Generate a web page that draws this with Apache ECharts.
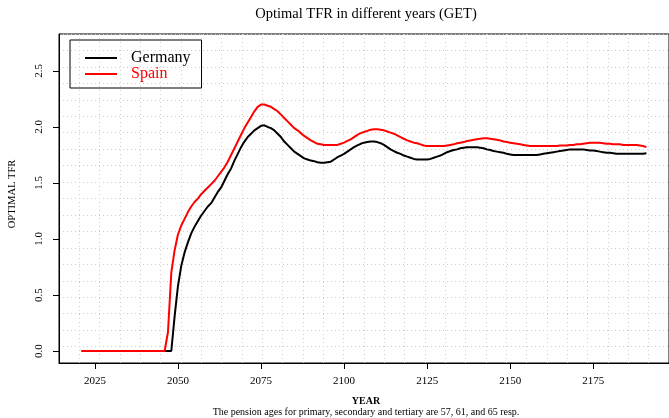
<!DOCTYPE html>
<html>
<head>
<meta charset="utf-8">
<script src="https://cdn.jsdelivr.net/npm/echarts@6/dist/echarts.min.js"></script>
<style>
  html, body { margin: 0; padding: 0; background: #fff; }
  #chart { width: 669px; height: 418px; }
</style>
</head>
<body>
<div id="chart"></div>
<script>
// Optimal TFR, one value per year starting at 2021
const startYear = 2021;
const xTicks = [2025, 2050, 2075, 2100, 2125, 2150, 2175];
const yTicks = [0, 0.5, 1, 1.5, 2, 2.5];

const germany = [
  0, 0, 0, 0, 0, 0, 0, 0, 0, 0, 0, 0, 0, 0, 0, 0, 0, 0, 0, 0, 0, 0, 0, 0, 0, 0, 0, // 2021-2047
  0, 0.31, 0.58, 0.76, 0.88, 0.97, 1.05, 1.11, 1.16, 1.21, 1.25, 1.29,         // 2048-2059
  1.32, 1.37, 1.42, 1.46, 1.52, 1.58, 1.63, 1.70, 1.76, 1.82,                  // 2060-2069
  1.87, 1.91, 1.94, 1.97, 1.99, 2.01, 2.015, 2.00, 1.99, 1.97,                 // 2070-2079
  1.94, 1.91, 1.87, 1.84, 1.81, 1.78, 1.76, 1.74, 1.72, 1.71,                  // 2080-2089
  1.70, 1.695, 1.685, 1.68, 1.68, 1.685, 1.69, 1.71, 1.73, 1.745,              // 2090-2099
  1.76, 1.78, 1.80, 1.82, 1.835, 1.85, 1.86, 1.865, 1.87, 1.87,                // 2100-2109
  1.865, 1.855, 1.84, 1.82, 1.80, 1.785, 1.77, 1.76, 1.745, 1.735,             // 2110-2119
  1.725, 1.715, 1.71, 1.71, 1.71, 1.71, 1.715, 1.725, 1.735, 1.745,            // 2120-2129
  1.76, 1.775, 1.785, 1.795, 1.80, 1.81, 1.815, 1.82, 1.82, 1.82,              // 2130-2139
  1.82, 1.815, 1.81, 1.80, 1.795, 1.785, 1.78, 1.775, 1.77, 1.76,              // 2140-2149
  1.755, 1.75, 1.75, 1.75, 1.75, 1.75, 1.75, 1.75, 1.75, 1.755,                // 2150-2159
  1.76, 1.765, 1.77, 1.775, 1.78, 1.785, 1.79, 1.795, 1.80, 1.80,              // 2160-2169
  1.80, 1.80, 1.80, 1.795, 1.79, 1.79, 1.785, 1.78, 1.775, 1.77,               // 2170-2179
  1.77, 1.765, 1.76, 1.76, 1.76, 1.76, 1.76, 1.76, 1.76, 1.76,                 // 2180-2189
  1.76, 1.765                                                                  // 2190-2191
];

const spain = [
  0, 0, 0, 0, 0, 0, 0, 0, 0, 0, 0, 0, 0, 0, 0, 0, 0, 0, 0, 0, 0, 0, 0, 0, 0, 0, // 2021-2046
  0.17, 0.70, 0.90, 1.04, 1.12, 1.18, 1.24, 1.29, 1.33, 1.36, 1.40, 1.43, 1.46, // 2047-2059
  1.49, 1.52, 1.56, 1.60, 1.64, 1.69, 1.75, 1.81, 1.87, 1.93,                  // 2060-2069
  1.99, 2.04, 2.09, 2.14, 2.18, 2.20, 2.20, 2.19, 2.18, 2.16,                  // 2070-2079
  2.14, 2.11, 2.08, 2.05, 2.02, 1.99, 1.97, 1.945, 1.92, 1.90,                 // 2080-2089
  1.88, 1.865, 1.85, 1.845, 1.84, 1.84, 1.84, 1.84, 1.84, 1.85,                // 2090-2099
  1.86, 1.875, 1.89, 1.91, 1.93, 1.945, 1.955, 1.965, 1.975, 1.98,             // 2100-2109
  1.98, 1.975, 1.97, 1.96, 1.95, 1.94, 1.925, 1.91, 1.895, 1.88,               // 2110-2119
  1.87, 1.86, 1.855, 1.845, 1.835, 1.83, 1.83, 1.83, 1.83, 1.83,               // 2120-2129
  1.83, 1.835, 1.84, 1.845, 1.855, 1.86, 1.865, 1.875, 1.88, 1.885,            // 2130-2139
  1.89, 1.895, 1.90, 1.90, 1.895, 1.89, 1.885, 1.88, 1.87, 1.865,              // 2140-2149
  1.86, 1.855, 1.85, 1.845, 1.84, 1.835, 1.83, 1.83, 1.83, 1.83,               // 2150-2159
  1.83, 1.83, 1.83, 1.83, 1.83, 1.835, 1.835, 1.835, 1.84, 1.84,               // 2160-2169
  1.845, 1.845, 1.85, 1.855, 1.86, 1.86, 1.86, 1.86, 1.855, 1.85,              // 2170-2179
  1.85, 1.845, 1.845, 1.845, 1.84, 1.84, 1.84, 1.84, 1.84, 1.835,              // 2180-2189
  1.83, 1.82                                                                   // 2190-2191
];

const withYears = arr => arr.map((v, i) => [startYear + i, v]);

const serif = '"Liberation Serif", "DejaVu Serif", serif';
const gridLine = { show: true, lineStyle: { color: '#cfcfcf', type: [1, 3], width: 1 } };

const chart = echarts.init(document.getElementById('chart'), null, { renderer: 'canvas' });

chart.setOption({
  animation: false,
  textStyle: { fontFamily: serif },
  grid: {
    left: 59, top: 34, bottom: 55, right: -7,
    show: true, borderColor: '#000', borderWidth: 1, backgroundColor: 'transparent'
  },
  legend: {
    orient: 'vertical',
    left: 70, top: 40,
    padding: [10, 11, 6, 15],
    itemWidth: 32, itemHeight: 2, itemGap: 0,
    icon: 'rect',
    borderColor: '#000', borderWidth: 1, borderRadius: 0,
    textStyle: { fontFamily: serif, fontSize: 16, lineHeight: 16, padding: [0, 0, 0, 9] },
    data: [
      { name: 'Germany', textStyle: { color: '#000' } },
      { name: 'Spain', textStyle: { color: '#ff0000' } }
    ]
  },
  xAxis: [
    {
      type: 'value', min: 2014.2, max: 2197.8,
      axisLine: { show: true, onZero: false, lineStyle: { color: '#000', width: 1 } },
      axisTick: { show: true, customValues: xTicks, length: 6, lineStyle: { color: '#000' } },
      axisLabel: {
        customValues: xTicks, color: '#000', fontSize: 11, margin: 13,
        fontFamily: serif, formatter: v => String(v)
      },
      splitLine: { show: false }
    },
    {
      // dotted background grid, 30 equal cells
      type: 'value', min: 0, max: 30, interval: 1, show: true,
      axisLine: { show: false }, axisTick: { show: false }, axisLabel: { show: false },
      splitLine: gridLine
    }
  ],
  yAxis: [
    {
      type: 'value', min: -0.107, max: 2.83,
      axisLine: { show: true, onZero: false, lineStyle: { color: '#000', width: 1 } },
      axisTick: { show: true, customValues: yTicks, length: 6, lineStyle: { color: '#000' } },
      axisLabel: {
        customValues: yTicks, color: '#000', fontSize: 11, margin: 14, rotate: 90,
        fontFamily: serif, formatter: v => v.toFixed(1)
      },
      splitLine: { show: false }
    },
    {
      // dotted background grid, 20 equal cells
      type: 'value', min: 0, max: 20, interval: 1, position: 'left', show: true,
      axisLine: { show: false }, axisTick: { show: false }, axisLabel: { show: false },
      splitLine: gridLine
    }
  ],
  series: [
    {
      name: 'Germany', type: 'line', data: withYears(germany),
      xAxisIndex: 0, yAxisIndex: 0, showSymbol: false, symbol: 'none',
      lineStyle: { color: '#000', width: 2 }, itemStyle: { color: '#000' }, z: 3
    },
    {
      name: 'Spain', type: 'line', data: withYears(spain),
      xAxisIndex: 0, yAxisIndex: 0, showSymbol: false, symbol: 'none',
      lineStyle: { color: '#ff0000', width: 2 }, itemStyle: { color: '#ff0000' }, z: 4
    }
  ],
  graphic: [
    {
      type: 'text', x: 366, y: 14,
      style: { text: 'Optimal TFR in different years (GET)', font: '14.5px ' + serif, fill: '#000', align: 'center', verticalAlign: 'middle' }
    },
    {
      type: 'text', x: 366, y: 401,
      style: { text: 'YEAR', font: 'bold 10px ' + serif, fill: '#000', align: 'center', verticalAlign: 'middle' }
    },
    {
      type: 'text', x: 366, y: 412,
      style: { text: 'The pension ages for primary, secondary and tertiary are 57, 61, and 65 resp.', font: '10px ' + serif, fill: '#000', align: 'center', verticalAlign: 'middle' }
    },
    {
      type: 'text', x: 12, y: 194, rotation: Math.PI / 2,
      style: { text: 'OPTIMAL TFR', font: '10.5px ' + serif, fill: '#000', align: 'center', verticalAlign: 'middle' }
    }
  ]
});
</script>
</body>
</html>
